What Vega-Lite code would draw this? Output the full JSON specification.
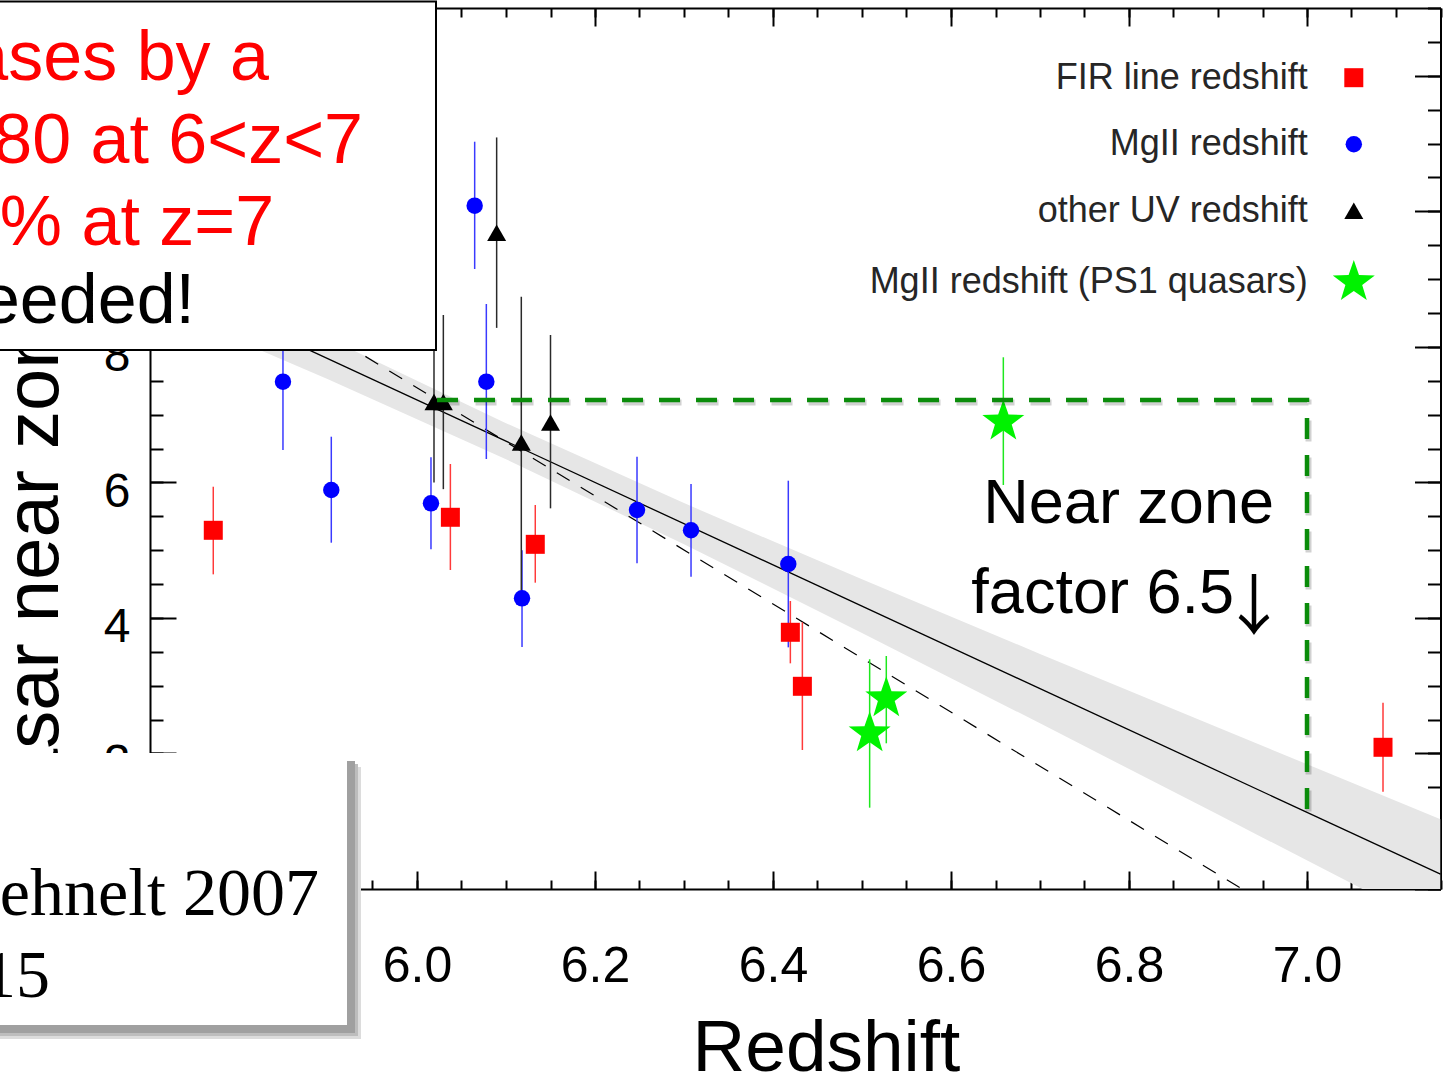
{
  "$schema": "https://vega.github.io/schema/vega-lite/v6.json",
  "width": 1290.5,
  "height": 881,
  "autosize": "none",
  "padding": {"left": 150, "top": 8, "right": 10, "bottom": 186},
  "background": "white",
  "config": {
    "font": "Liberation Sans",
    "view": {"stroke": null},
    "axis": {
      "grid": false,
      "tickColor": "black",
      "domainColor": "black",
      "labelColor": "black",
      "titleColor": "black",
      "titleFontWeight": "normal",
      "labelFont": "Liberation Sans",
      "titleFont": "Liberation Sans"
    }
  },
  "datasets": {
    "pts": [
      {"series": "FIR line redshift", "z": 5.7711, "r": 5.293, "lo": 4.643, "hi": 5.936},
      {"series": "FIR line redshift", "z": 6.0375, "r": 5.485, "lo": 4.707, "hi": 6.271},
      {"series": "FIR line redshift", "z": 6.1329, "r": 5.086, "lo": 4.52, "hi": 5.666},
      {"series": "FIR line redshift", "z": 6.4195, "r": 3.788, "lo": 3.33, "hi": 4.25},
      {"series": "FIR line redshift", "z": 6.433, "r": 2.991, "lo": 2.051, "hi": 3.935},
      {"series": "FIR line redshift", "z": 7.0854, "r": 2.091, "lo": 1.436, "hi": 2.749},
      {"series": "MgII redshift", "z": 5.8494, "r": 7.486, "lo": 6.478, "hi": 8.49},
      {"series": "MgII redshift", "z": 5.9037, "r": 5.888, "lo": 5.11, "hi": 6.674},
      {"series": "MgII redshift", "z": 6.0157, "r": 5.691, "lo": 5.013, "hi": 6.37},
      {"series": "MgII redshift", "z": 6.0648, "r": 10.083, "lo": 9.149, "hi": 11.027},
      {"series": "MgII redshift", "z": 6.0779, "r": 7.486, "lo": 6.345, "hi": 8.632},
      {"series": "MgII redshift", "z": 6.118, "r": 4.289, "lo": 3.57, "hi": 5.0},
      {"series": "MgII redshift", "z": 6.2472, "r": 5.592, "lo": 4.806, "hi": 6.379},
      {"series": "MgII redshift", "z": 6.3079, "r": 5.293, "lo": 4.608, "hi": 5.976},
      {"series": "MgII redshift", "z": 6.4172, "r": 4.796, "lo": 3.566, "hi": 6.025},
      {"series": "other UV redshift", "z": 6.0191, "r": 7.186, "lo": 6.0, "hi": 8.34},
      {"series": "other UV redshift", "z": 6.0296, "r": 7.186, "lo": 5.9, "hi": 8.47},
      {"series": "other UV redshift", "z": 6.0895, "r": 9.683, "lo": 8.28, "hi": 11.09},
      {"series": "other UV redshift", "z": 6.1172, "r": 6.589, "lo": 4.36, "hi": 8.74},
      {"series": "other UV redshift", "z": 6.15, "r": 6.884, "lo": 5.617, "hi": 8.175},
      {"series": "MgII redshift (PS1 quasars)", "z": 6.5086, "r": 2.297, "lo": 1.2, "hi": 3.39},
      {"series": "MgII redshift (PS1 quasars)", "z": 6.5273, "r": 2.814, "lo": 2.15, "hi": 3.438},
      {"series": "MgII redshift (PS1 quasars)", "z": 6.6588, "r": 6.895, "lo": 5.961, "hi": 7.846}
    ],
    "band": [
      {"z": 5.7, "lo": 8.646, "hi": 9.436},
      {"z": 5.9, "lo": 7.521, "hi": 8.127},
      {"z": 6.1, "lo": 6.342, "hi": 6.874},
      {"z": 6.3, "lo": 5.088, "hi": 5.694},
      {"z": 6.5, "lo": 3.779, "hi": 4.569},
      {"z": 6.7, "lo": 2.445, "hi": 3.469},
      {"z": 6.9, "lo": 1.098, "hi": 2.382},
      {"z": 7.15, "lo": -0.593, "hi": 1.031}
    ],
    "fit": [
      {"z": 5.7, "r": 9.041},
      {"z": 7.15, "r": 0.219}
    ],
    "model": [
      {"z": 5.7, "r": 9.79},
      {"z": 6.927, "r": 0}
    ],
    "nearzone": [
      {"k": 1, "z": 6.0225, "r": 7.216},
      {"k": 2, "z": 7.0, "r": 7.216},
      {"k": 3, "z": 7.0, "r": 1.176}
    ]
  },
  "resolve": {"axis": {"x": "independent", "y": "independent"}},
  "layer": [
    {
      "data": {"name": "band"},
      "mark": {"type": "area", "color": "#e6e6e6", "clip": true},
      "encoding": {
        "x": {"field": "z", "type": "quantitative", "scale": {"domain": [5.7, 7.15], "nice": false, "zero": false},
          "axis": {"orient": "bottom", "values": [5.7, 5.75, 5.8, 5.85, 5.9, 5.95, 6.0, 6.05, 6.1, 6.15, 6.2, 6.25, 6.3, 6.35, 6.4, 6.45, 6.5, 6.55, 6.6, 6.65, 6.7, 6.75, 6.8, 6.85, 6.9, 6.95, 7.0, 7.05, 7.1, 7.15],
            "labels": false, "domain": false, "tickSize": -9, "tickWidth": 2, "title": null}},
        "y": {"field": "lo", "type": "quantitative", "scale": {"domain": [0, 13], "nice": false, "zero": false},
          "axis": {"orient": "left", "values": [0, 0.5, 1, 1.5, 2, 2.5, 3, 3.5, 4, 4.5, 5, 5.5, 6, 6.5, 7, 7.5, 8, 8.5, 9, 9.5, 10, 10.5, 11, 11.5, 12, 12.5, 13],
            "labels": false, "domain": false, "tickSize": -13, "tickWidth": 2, "title": null}},
        "y2": {"field": "hi"}
      }
    },
    {
      "data": {"name": "model"},
      "mark": {"type": "line", "color": "black", "strokeWidth": 1.2, "strokeDash": [15, 13]},
      "encoding": {
        "x": {"field": "z", "type": "quantitative", "scale": {"domain": [5.7, 7.15], "nice": false, "zero": false},
          "axis": {"orient": "top", "values": [5.7, 5.75, 5.8, 5.85, 5.9, 5.95, 6.0, 6.05, 6.1, 6.15, 6.2, 6.25, 6.3, 6.35, 6.4, 6.45, 6.5, 6.55, 6.6, 6.65, 6.7, 6.75, 6.8, 6.85, 6.9, 6.95, 7.0, 7.05, 7.1, 7.15],
            "labels": false, "domain": false, "tickSize": -9, "tickWidth": 2, "title": null}},
        "y": {"field": "r", "type": "quantitative", "scale": {"domain": [0, 13], "nice": false, "zero": false},
          "axis": {"orient": "right", "values": [0, 0.5, 1, 1.5, 2, 2.5, 3, 3.5, 4, 4.5, 5, 5.5, 6, 6.5, 7, 7.5, 8, 8.5, 9, 9.5, 10, 10.5, 11, 11.5, 12, 12.5, 13],
            "labels": false, "domain": false, "tickSize": -13, "tickWidth": 2, "title": null}}
      }
    },
    {
      "data": {"name": "fit"},
      "mark": {"type": "line", "color": "black", "strokeWidth": 1.3},
      "encoding": {
        "x": {"field": "z", "type": "quantitative", "scale": {"domain": [5.7, 7.15], "nice": false, "zero": false},
          "axis": {"orient": "bottom", "values": [5.8, 6.0, 6.2, 6.4, 6.6, 6.8, 7.0], "format": ".1f",
            "ticks": false, "tickSize": 0, "domain": false, "labelPadding": 92, "labelBaseline": "alphabetic",
            "labelFontSize": 50, "labelFlush": false, "labelOverlap": false,
            "title": "Redshift", "titleFontSize": 73, "titleX": 676, "titleY": 181, "titleBaseline": "alphabetic", "titleAlign": "center"}},
        "y": {"field": "r", "type": "quantitative", "scale": {"domain": [0, 13], "nice": false, "zero": false},
          "axis": {"orient": "left", "values": [0, 2, 4, 6, 8, 10, 12], "format": "d",
            "ticks": false, "tickSize": 0, "domain": false, "labelPadding": 20, "labelBaseline": "alphabetic", "labelOffset": 24,
            "labelFontSize": 48, "labelFlush": false, "labelOverlap": false,
            "title": "Quasar near zone (Mpc)", "titleFontSize": 76, "titleX": -93, "titleY": 884, "titleAngle": 270,
            "titleAlign": "left", "titleBaseline": "alphabetic"}}
      }
    },
    {
      "data": {"name": "pts"},
      "mark": {"type": "rule", "strokeWidth": 1.5},
      "encoding": {
        "x": {"field": "z", "type": "quantitative", "scale": {"domain": [5.7, 7.15], "nice": false, "zero": false},
          "axis": {"orient": "bottom", "values": [5.8, 6.0, 6.2, 6.4, 6.6, 6.8, 7.0], "labels": false,
            "domain": true, "domainWidth": 2, "tickSize": -18, "tickWidth": 2, "title": null}},
        "y": {"field": "lo", "type": "quantitative", "scale": {"domain": [0, 13], "nice": false, "zero": false},
          "axis": {"orient": "left", "values": [0, 2, 4, 6, 8, 10, 12], "labels": false,
            "domain": true, "domainWidth": 2, "tickSize": -26, "tickWidth": 2, "title": null}},
        "y2": {"field": "hi"},
        "stroke": {"field": "series", "type": "nominal", "legend": null,
          "scale": {"domain": ["MgII redshift (PS1 quasars)", "other UV redshift", "MgII redshift", "FIR line redshift"],
            "range": ["#1ee81e", "#2a2a2a", "#3a3aff", "#ff3a3a"]}}
      }
    },
    {
      "data": {"name": "pts"},
      "mark": {"type": "point", "filled": true, "opacity": 1, "strokeWidth": 0},
      "encoding": {
        "x": {"field": "z", "type": "quantitative", "scale": {"domain": [5.7, 7.15], "nice": false, "zero": false},
          "axis": {"orient": "top", "values": [5.8, 6.0, 6.2, 6.4, 6.6, 6.8, 7.0], "labels": false,
            "domain": true, "domainWidth": 2, "tickSize": -18, "tickWidth": 2, "title": null}},
        "y": {"field": "r", "type": "quantitative", "scale": {"domain": [0, 13], "nice": false, "zero": false},
          "axis": {"orient": "right", "values": [0, 2, 4, 6, 8, 10, 12], "labels": false,
            "domain": true, "domainWidth": 2, "tickSize": -26, "tickWidth": 2, "title": null}},
        "color": {"field": "series", "type": "nominal",
          "scale": {"domain": ["FIR line redshift", "MgII redshift", "other UV redshift", "MgII redshift (PS1 quasars)"],
            "range": ["#ff0000", "#0000ff", "#000000", "#00f200"]},
          "legend": {"orient": "none", "legendX": 669, "legendY": 51.7, "direction": "vertical", "title": null, "padding": 0,
            "labelFont": "Liberation Sans", "labelFontSize": 36, "labelColor": "#262626", "labelAlign": "right",
            "labelOffset": -64, "symbolOffset": 516.8, "labelLimit": 800, "rowPadding": 30.5, "symbolSize": 361,
            "symbolStrokeWidth": 0, "symbolOpacity": 1,
            "encode": {"symbols": {"update": {"size": {"signal": "datum.value === 'MgII redshift (PS1 quasars)' ? 1950 : datum.value === 'MgII redshift' ? 270 : 361"}}}}}},
        "shape": {"field": "series", "type": "nominal",
          "scale": {"domain": ["FIR line redshift", "MgII redshift", "other UV redshift", "MgII redshift (PS1 quasars)"],
            "range": ["square", "circle", "triangle-up", "M0,-1L0.235,-0.324L0.951,-0.309L0.38,0.124L0.588,0.809L0,0.4L-0.588,0.809L-0.38,0.124L-0.951,-0.309L-0.235,-0.324Z"]},
          "legend": {"orient": "none", "legendX": 669, "legendY": 51.7, "direction": "vertical", "title": null, "padding": 0,
            "labelFont": "Liberation Sans", "labelFontSize": 36, "labelColor": "#262626", "labelAlign": "right",
            "labelOffset": -64, "symbolOffset": 516.8, "labelLimit": 800, "rowPadding": 30.5, "symbolSize": 361,
            "symbolStrokeWidth": 0, "symbolOpacity": 1,
            "encode": {"symbols": {"update": {"size": {"signal": "datum.value === 'MgII redshift (PS1 quasars)' ? 1950 : datum.value === 'MgII redshift' ? 270 : 361"}}}}}},
        "size": {"condition": [
            {"test": "datum.series === 'MgII redshift (PS1 quasars)'", "value": 1950},
            {"test": "datum.series === 'MgII redshift'", "value": 270}
          ], "value": 361}
      }
    },
    {
      "data": {"name": "nearzone"},
      "mark": {"type": "line", "color": "#000000", "opacity": 0.18, "strokeWidth": 6, "strokeDash": [21, 16], "strokeCap": "butt", "xOffset": 1.5, "yOffset": 2.5},
      "encoding": {
        "x": {"field": "z", "type": "quantitative", "axis": null, "scale": {"domain": [5.7, 7.15], "nice": false, "zero": false}},
        "y": {"field": "r", "type": "quantitative", "axis": null, "scale": {"domain": [0, 13], "nice": false, "zero": false}},
        "order": {"field": "k"}
      }
    },
    {
      "data": {"name": "nearzone"},
      "mark": {"type": "line", "color": "#0a8c0a", "strokeWidth": 4.5, "strokeDash": [21, 16], "strokeCap": "butt"},
      "encoding": {
        "x": {"field": "z", "type": "quantitative", "axis": null, "scale": {"domain": [5.7, 7.15], "nice": false, "zero": false}},
        "y": {"field": "r", "type": "quantitative", "axis": null, "scale": {"domain": [0, 13], "nice": false, "zero": false}},
        "order": {"field": "k"}
      }
    },
    {
      "data": {"values": [{}]},
      "mark": {"type": "text", "font": "Liberation Sans", "fontSize": 63, "align": "right", "baseline": "alphabetic", "color": "black"},
      "encoding": {
        "x": {"datum": 6.9629, "axis": null, "scale": {"domain": [5.7, 7.15], "nice": false, "zero": false}},
        "y": {"datum": 5.3955, "axis": null, "scale": {"domain": [0, 13], "nice": false, "zero": false}},
        "text": {"value": "Near zone"}
      }
    },
    {
      "data": {"values": [{}]},
      "mark": {"type": "text", "font": "Liberation Sans", "fontSize": 63, "align": "right", "baseline": "alphabetic", "color": "black"},
      "encoding": {
        "x": {"datum": 6.918, "axis": null, "scale": {"domain": [5.7, 7.15], "nice": false, "zero": false}},
        "y": {"datum": 4.068, "axis": null, "scale": {"domain": [0, 13], "nice": false, "zero": false}},
        "text": {"value": "factor 6.5"}
      }
    },
    {
      "data": {"values": [{}]},
      "mark": {"type": "text", "font": "Noto Sans CJK JP", "fontSize": 66, "align": "center", "baseline": "alphabetic", "color": "black"},
      "encoding": {
        "x": {"datum": 6.9404, "axis": null, "scale": {"domain": [5.7, 7.15], "nice": false, "zero": false}},
        "y": {"datum": 3.83, "axis": null, "scale": {"domain": [0, 13], "nice": false, "zero": false}},
        "text": {"value": "↓"}
      }
    },
    {
      "data": {"values": [{}]},
      "mark": {"type": "rect", "fill": "#dcdcdc", "x2Offset": 14, "yOffset": 14, "y2Offset": 14},
      "encoding": {
        "x": {"datum": 5.5, "axis": null, "scale": {"domain": [5.7, 7.15], "nice": false, "zero": false}},
        "x2": {"datum": 5.92135},
        "y": {"datum": 2.0068, "axis": null, "scale": {"domain": [0, 13], "nice": false, "zero": false}},
        "y2": {"datum": -2.0068}
      }
    },
    {
      "data": {"values": [{}]},
      "mark": {"type": "rect", "fill": "#bdbdbd", "x2Offset": 11, "yOffset": 11, "y2Offset": 11},
      "encoding": {
        "x": {"datum": 5.5, "axis": null, "scale": {"domain": [5.7, 7.15], "nice": false, "zero": false}},
        "x2": {"datum": 5.92135},
        "y": {"datum": 2.0068, "axis": null, "scale": {"domain": [0, 13], "nice": false, "zero": false}},
        "y2": {"datum": -2.0068}
      }
    },
    {
      "data": {"values": [{}]},
      "mark": {"type": "rect", "fill": "#a0a0a0", "x2Offset": 8, "yOffset": 8, "y2Offset": 8},
      "encoding": {
        "x": {"datum": 5.5, "axis": null, "scale": {"domain": [5.7, 7.15], "nice": false, "zero": false}},
        "x2": {"datum": 5.92135},
        "y": {"datum": 2.0068, "axis": null, "scale": {"domain": [0, 13], "nice": false, "zero": false}},
        "y2": {"datum": -2.0068}
      }
    },
    {
      "data": {"values": [{}]},
      "mark": {"type": "rect", "fill": "white"},
      "encoding": {
        "x": {"datum": 5.5, "axis": null, "scale": {"domain": [5.7, 7.15], "nice": false, "zero": false}},
        "x2": {"datum": 5.92135},
        "y": {"datum": 2.0068, "axis": null, "scale": {"domain": [0, 13], "nice": false, "zero": false}},
        "y2": {"datum": -2.0068}
      }
    },
    {
      "data": {"values": [{}]},
      "mark": {"type": "text", "font": "Liberation Serif", "fontSize": 68, "align": "right", "baseline": "alphabetic", "color": "black"},
      "encoding": {
        "x": {"datum": 5.8899, "axis": null, "scale": {"domain": [5.7, 7.15], "nice": false, "zero": false}},
        "y": {"datum": -0.3837, "axis": null, "scale": {"domain": [0, 13], "nice": false, "zero": false}},
        "text": {"value": "Bolton & Haehnelt 2007"}
      }
    },
    {
      "data": {"values": [{}]},
      "mark": {"type": "text", "font": "Liberation Serif", "fontSize": 68, "align": "right", "baseline": "alphabetic", "color": "black"},
      "encoding": {
        "x": {"datum": 5.5876, "axis": null, "scale": {"domain": [5.7, 7.15], "nice": false, "zero": false}},
        "y": {"datum": -1.5936, "axis": null, "scale": {"domain": [0, 13], "nice": false, "zero": false}},
        "text": {"value": "Venemans et al. 2015"}
      }
    },
    {
      "data": {"values": [{}]},
      "mark": {"type": "rect", "fill": "white", "stroke": "black", "strokeWidth": 2},
      "encoding": {
        "x": {"datum": 5.5, "axis": null, "scale": {"domain": [5.7, 7.15], "nice": false, "zero": false}},
        "x2": {"datum": 6.02135},
        "y": {"datum": 13.096, "axis": null, "scale": {"domain": [0, 13], "nice": false, "zero": false}},
        "y2": {"datum": 7.9534}
      }
    },
    {
      "data": {"values": [{}]},
      "mark": {"type": "text", "font": "Liberation Sans", "fontSize": 70, "align": "right", "baseline": "alphabetic", "color": "#ff0000"},
      "encoding": {
        "x": {"datum": 5.8337, "axis": null, "scale": {"domain": [5.7, 7.15], "nice": false, "zero": false}},
        "y": {"datum": 11.937, "axis": null, "scale": {"domain": [0, 13], "nice": false, "zero": false}},
        "text": {"value": "Near zone size decreases by a"}
      }
    },
    {
      "data": {"values": [{}]},
      "mark": {"type": "text", "font": "Liberation Sans", "fontSize": 70, "align": "right", "baseline": "alphabetic", "color": "#ff0000"},
      "encoding": {
        "x": {"datum": 5.9393, "axis": null, "scale": {"domain": [5.7, 7.15], "nice": false, "zero": false}},
        "y": {"datum": 10.713, "axis": null, "scale": {"domain": [0, 13], "nice": false, "zero": false}},
        "text": {"value": "factor of ~1.80 at 6<z<7"}
      }
    },
    {
      "data": {"values": [{}]},
      "mark": {"type": "text", "font": "Liberation Sans", "fontSize": 70, "align": "right", "baseline": "alphabetic", "color": "#ff0000"},
      "encoding": {
        "x": {"datum": 5.8395, "axis": null, "scale": {"domain": [5.7, 7.15], "nice": false, "zero": false}},
        "y": {"datum": 9.503, "axis": null, "scale": {"domain": [0, 13], "nice": false, "zero": false}},
        "text": {"value": "Uncertainty ~15 % at z=7"}
      }
    },
    {
      "data": {"values": [{}]},
      "mark": {"type": "text", "font": "Liberation Sans", "fontSize": 70, "align": "right", "baseline": "alphabetic", "color": "black"},
      "encoding": {
        "x": {"datum": 5.7506, "axis": null, "scale": {"domain": [5.7, 7.15], "nice": false, "zero": false}},
        "y": {"datum": 8.352, "axis": null, "scale": {"domain": [0, 13], "nice": false, "zero": false}},
        "text": {"value": "More data needed!"}
      }
    }
  ]
}
